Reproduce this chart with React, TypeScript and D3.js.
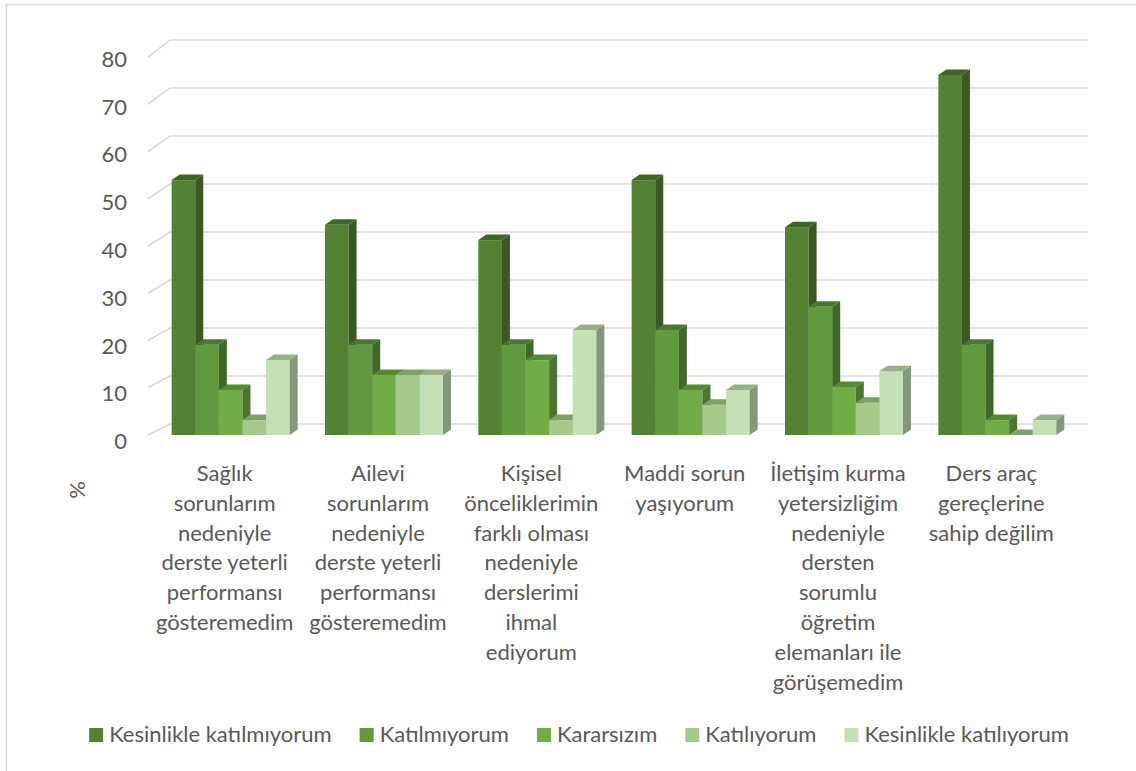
import React, { useEffect, useRef } from 'react';
import * as d3 from 'd3';

// category labels, already broken into the lines shown under each group
const categories = [
  ['Sağlık', 'sorunlarım', 'nedeniyle', 'derste yeterli', 'performansı', 'gösteremedim'],
  ['Ailevi', 'sorunlarım', 'nedeniyle', 'derste yeterli', 'performansı', 'gösteremedim'],
  ['Kişisel', 'önceliklerimin', 'farklı olması', 'nedeniyle', 'derslerimi', 'ihmal', 'ediyorum'],
  ['Maddi sorun', 'yaşıyorum'],
  ['İletişim kurma', 'yetersizliğim', 'nedeniyle', 'dersten', 'sorumlu', 'öğretim', 'elemanları ile', 'görüşemedim'],
  ['Ders araç', 'gereçlerine', 'sahip değilim'],
];

const seriesNames = [
  'Kesinlikle katılmıyorum',
  'Katılmıyorum',
  'Kararsızım',
  'Katılıyorum',
  'Kesinlikle katılıyorum',
];

// values in %
const kesinlikleKatilmiyorum = [53.1, 43.8, 40.6, 53.1, 43.3, 75.0];
const katilmiyorum = [18.8, 18.8, 18.8, 21.9, 26.7, 18.8];
const kararsizim = [9.4, 12.5, 15.6, 9.4, 10.0, 3.1];
const katiliyorum = [3.1, 12.5, 3.1, 6.3, 6.7, 0];
const kesinlikleKatiliyorum = [15.6, 12.5, 21.9, 9.4, 13.3, 3.1];

const yTicks = [0, 10, 20, 30, 40, 50, 60, 70, 80];

const colors = ['#548235', '#60993e', '#70ad47', '#a5cb8c', '#c5e0b4'];

const FONT = 'Lato, "Open Sans", sans-serif';
const FS = 22;
const TEXT = '#595959';

const App = () => {
  const ref = useRef<SVGSVGElement | null>(null);

  useEffect(() => {
    document.body.style.margin = '0';
    if (!ref.current) return;
    const svg = d3.select(ref.current);
    svg.selectAll('*').remove();

    const series = [kesinlikleKatilmiyorum, katilmiyorum, kararsizim, katiliyorum, kesinlikleKatiliyorum];

    // chart frame (only left and top edges are inside the picture)
    svg.append('rect').attr('width', 1136).attr('height', 771).attr('fill', '#fff');
    svg.append('path')
      .attr('d', 'M6.5,771 V4.5 H1136')
      .attr('fill', 'none')
      .attr('stroke', '#d9d9d9')
      .attr('stroke-width', 1.5);

    // back wall scale, front (side wall edge) scale and bar scale
    const yBack = d3.scaleLinear().domain([0, 80]).range([424, 40]);
    const yFront = d3.scaleLinear().domain([0, 80]).range([435, 57]);
    const y = d3.scaleLinear().domain([0, 80]).range([435, 51]);
    const backX0 = 170;
    const backX1 = 1088;
    const frontX0 = 148;

    const grid = svg.append('g').attr('stroke', '#d9d9d9').attr('stroke-width', 1.6).attr('fill', 'none');
    yTicks.forEach((t) => {
      grid.append('path')
        .attr('d', `M${frontX0},${yFront(t)} L${backX0},${yBack(t)} H${backX1}`);
    });

    // y tick labels
    const yLab = d3.scaleLinear().domain([0, 80]).range([441.5, 59]);
    svg.append('g')
      .selectAll('text')
      .data(yTicks)
      .join('text')
      .attr('x', 127)
      .attr('y', (d) => yLab(d))
      .attr('dy', '0.35em')
      .attr('text-anchor', 'end')
      .attr('font-family', FONT)
      .attr('font-size', FS)
      .attr('fill', TEXT)
      .text((d) => d);

    svg.append('text')
      .attr('transform', 'translate(77,490) rotate(-90)')
      .attr('dy', '0.35em')
      .attr('text-anchor', 'middle')
      .attr('font-family', FONT)
      .attr('font-size', FS)
      .attr('fill', TEXT)
      .text('%');

    // bars
    const x0 = d3.scaleBand<number>()
      .domain(d3.range(categories.length))
      .range([154, 1074])
      .paddingInner(0.2304)
      .paddingOuter(0.1152);
    const x1 = d3.scaleBand<number>()
      .domain(d3.range(series.length))
      .range([0, x0.bandwidth()]);

    const dx = 8;
    const dy = -5.5;
    const bars = svg.append('g');
    categories.forEach((_, ci) => {
      series.forEach((vals, si) => {
        const v = vals[ci];
        const xl = x0(ci)! + x1(si)!;
        const w = x1.bandwidth();
        const yt = y(v);
        const yb = y(0);
        const c = d3.rgb(colors[si]);
        const g = bars.append('g');
        // front
        g.append('rect')
          .attr('x', xl)
          .attr('y', yt)
          .attr('width', w)
          .attr('height', yb - yt)
          .attr('fill', colors[si]);
        // top
        g.append('path')
          .attr('d', `M${xl},${yt} L${xl + dx},${yt + dy} H${xl + w + dx} L${xl + w},${yt} Z`)
          .attr('fill', c.darker(0.7).formatHex());
        // side
        g.append('path')
          .attr('d', `M${xl + w},${yt} L${xl + w + dx},${yt + dy} V${yb + dy} L${xl + w},${yb} Z`)
          .attr('fill', c.darker(1.1).formatHex());
      });
    });

    // category labels
    const lab = svg.append('g')
      .attr('font-family', FONT)
      .attr('font-size', FS)
      .attr('fill', TEXT)
      .attr('text-anchor', 'middle');
    categories.forEach((lines, ci) => {
      const cx = x0(ci)! + x0.bandwidth() / 2 - 6;
      const t = lab.append('text');
      lines.forEach((line, li) => {
        t.append('tspan').attr('x', cx).attr('y', 481 + li * 29.8).text(line);
      });
    });

    // legend, centred like Excel does it
    const leg = svg.append('g').attr('font-family', FONT).attr('font-size', FS).attr('fill', TEXT);
    const items = seriesNames.map((name, i) => {
      const gi = leg.append('g');
      gi.append('rect').attr('width', 14).attr('height', 14).attr('y', 728).attr('fill', colors[i]);
      const tx = gi.append('text').attr('x', 20).attr('y', 742).text(name);
      const tw = (tx.node() as SVGTextElement).getComputedTextLength();
      return { gi, width: 20 + tw };
    });
    const gap = 28;
    const total = d3.sum(items, (d) => d.width) + gap * (items.length - 1);
    let cur = 579 - total / 2;
    items.forEach((it) => {
      it.gi.attr('transform', `translate(${cur},0)`);
      cur += it.width + gap;
    });
  }, []);

  return <svg ref={ref} width={1136} height={771} style={{ display: 'block' }} />;
};

export default App;
